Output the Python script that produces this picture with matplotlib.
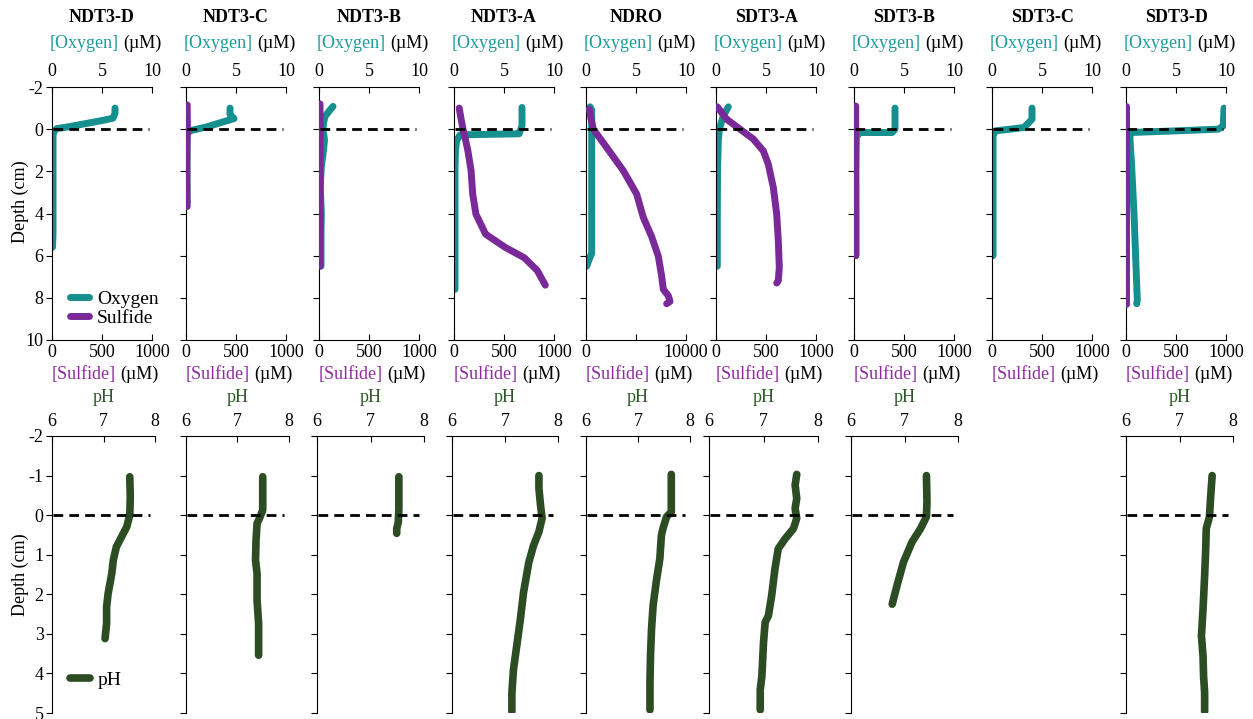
import matplotlib.pyplot as plt

plt.rcParams['font.family'] = ['Liberation Serif', 'DejaVu Serif']
plt.rcParams['font.size'] = 13
plt.rcParams['axes.unicode_minus'] = False

# site names, left to right
sites = ['NDT3-D', 'NDT3-C', 'NDT3-B', 'NDT3-A', 'NDRO', 'SDT3-A', 'SDT3-B', 'SDT3-C', 'SDT3-D']

# oxygen profiles (top axis, 0-10) : depth cm, value
ndt3d_o2_depth = [-1.0, -0.75, -0.52, -0.4, -0.25, -0.1, -0.03, 0.1, 0.3, 1.0, 2.0, 3.0, 4.0, 5.0, 5.6]
ndt3d_o2 = [6.3, 6.3, 6.1, 4.9, 3.2, 1.5, 0.5, 0.2, 0.1, 0.1, 0.1, 0.1, 0.1, 0.1, 0.05]
ndt3c_o2_depth = [-1.0, -0.7, -0.5, -0.3, -0.1, 0.05, 0.15, 0.3, 1.0, 2.0, 3.0, 3.5]
ndt3c_o2 = [4.4, 4.4, 4.8, 3.4, 2.0, 0.6, 0.2, 0.1, 0.1, 0.1, 0.1, 0.1]
ndt3b_o2_depth = [-1.08, -0.85, -0.6, -0.3, 0.0, 0.5, 1.0, 1.8, 2.7, 4.0, 5.0, 6.5]
ndt3b_o2 = [1.4, 1.0, 0.6, 0.45, 0.4, 0.55, 0.45, 0.23, 0.13, 0.23, 0.2, 0.2]
ndt3a_o2_depth = [-1.03, -0.5, -0.16, 0.1, 0.22, 0.27, 0.55, 1.0, 1.8, 3.0, 5.0, 7.6]
ndt3a_o2 = [6.8, 6.8, 6.8, 6.6, 6.5, 0.6, 0.26, 0.15, 0.1, 0.1, 0.1, 0.1]
ndro_o2_depth = [-1.06, -0.9, 0.0, 1.0, 2.0, 3.0, 4.0, 5.0, 5.88, 6.2, 6.5]
ndro_o2 = [0.4, 0.57, 0.57, 0.57, 0.57, 0.57, 0.57, 0.57, 0.57, 0.3, 0.07]
sdt3a_o2_depth = [-1.06, -0.63, 0.0, 0.55, 2.0, 4.0, 6.5]
sdt3a_o2 = [1.23, 0.73, 0.33, 0.23, 0.15, 0.13, 0.13]
sdt3b_o2_depth = [-1.0, -0.5, 0.0, 0.16, 0.16, 0.4, 2.0, 4.0, 6.0]
sdt3b_o2 = [4.1, 4.1, 4.1, 3.8, 0.56, 0.23, 0.2, 0.2, 0.2]
sdt3c_o2_depth = [-1.0, -0.47, -0.08, 0.0, 0.08, 0.3, 2.0, 4.0, 6.0]
sdt3c_o2 = [4.0, 4.0, 3.2, 1.85, 0.34, 0.1, 0.1, 0.1, 0.1]
sdt3d_o2_depth = [-1.0, -0.16, 0.0, 0.08, 0.16, 0.5, 1.8, 4.0, 6.5, 8.1, 8.28]
sdt3d_o2 = [9.8, 9.73, 9.23, 5.0, 0.4, 0.4, 0.57, 0.8, 1.0, 1.13, 1.07]

# sulfide profiles (bottom axis) : depth cm, uM
ndt3d_h2s_depth = []
ndt3d_h2s = []
ndt3c_h2s_depth = [-1.15, 0.0, 1.0, 2.0, 3.0, 3.67]
ndt3c_h2s = [12, 14, 10, 8, 10, 12]
ndt3b_h2s_depth = [-1.2, 0.0, 2.0, 4.0, 6.5]
ndt3b_h2s = [10, 12, 10, 12, 10]
ndt3a_h2s_depth = [-1.0, -0.5, 0.0, 0.5, 1.03, 1.97, 3.08, 4.03, 4.98, 5.6, 6.1, 6.7, 7.4]
ndt3a_h2s = [52, 70, 90, 115, 139, 171, 187, 219, 316, 510, 703, 832, 913]
ndro_h2s_depth = [-0.95, -0.5, 0.0, 0.87, 1.97, 3.08, 4.19, 5.1, 6.03, 6.98, 7.6, 7.9, 8.17, 8.28]
ndro_h2s = [333, 500, 733, 2067, 3733, 5067, 5733, 6567, 7233, 7567, 7733, 8233, 8400, 8067]
sdt3a_h2s_depth = [-1.06, -0.47, 0.0, 0.47, 1.03, 1.66, 2.76, 4.03, 5.29, 6.55, 7.19, 7.3]
sdt3a_h2s = [13, 107, 240, 373, 473, 523, 573, 607, 623, 633, 623, 607]
sdt3b_h2s_depth = [-1.1, 0.0, 2.0, 4.0, 6.0]
sdt3b_h2s = [17, 17, 15, 17, 17]
sdt3c_h2s_depth = []
sdt3c_h2s = []
sdt3d_h2s_depth = [-1.1, 0.0, 2.0, 4.0, 6.0, 8.3]
sdt3d_h2s = [3, 3, 3, 3, 3, 3]

h2s_max = [1000, 1000, 1000, 1000, 10000, 1000, 1000, 1000, 1000]

# pH profiles (no pH for SDT3-C)
ndt3d_ph_depth = [-0.97, -0.46, 0.0, 0.3, 0.55, 0.8, 1.14, 1.48, 1.98, 2.32, 2.74, 3.12]
ndt3d_ph = [7.51, 7.52, 7.51, 7.45, 7.35, 7.25, 7.19, 7.16, 7.09, 7.06, 7.06, 7.03]
ndt3c_ph_depth = [-0.97, -0.13, 0.04, 0.21, 0.63, 1.14, 1.48, 2.15, 2.74, 3.16, 3.54]
ndt3c_ph = [7.49, 7.49, 7.44, 7.38, 7.36, 7.35, 7.38, 7.38, 7.41, 7.41, 7.41]
ndt3b_ph_depth = [-0.97, -0.17, 0.17, 0.34, 0.46]
ndt3b_ph = [7.53, 7.53, 7.52, 7.49, 7.49]
ndt3a_ph_depth = [-1.0, -0.68, -0.25, 0.08, 0.42, 0.76, 1.19, 1.95, 2.63, 3.22, 3.9, 4.49, 4.96]
ndt3a_ph = [7.64, 7.64, 7.67, 7.70, 7.64, 7.54, 7.45, 7.35, 7.29, 7.23, 7.16, 7.13, 7.13]
ndro_ph_depth = [-1.03, -0.08, 0.04, 0.34, 0.51, 1.1, 1.69, 2.29, 2.88, 3.56, 4.24, 4.92]
ndro_ph = [7.64, 7.64, 7.55, 7.48, 7.45, 7.42, 7.35, 7.29, 7.26, 7.24, 7.23, 7.23]
sdt3a_ph_depth = [-1.03, -0.76, -0.42, -0.17, 0.08, 0.34, 0.59, 0.85, 1.36, 2.03, 2.54, 2.71, 3.22, 4.07, 4.41, 4.92]
sdt3a_ph = [7.61, 7.58, 7.61, 7.58, 7.61, 7.55, 7.40, 7.27, 7.21, 7.15, 7.09, 7.03, 7.0, 6.97, 6.94, 6.94]
sdt3b_ph_depth = [-1.0, -0.34, 0.04, 0.34, 0.68, 1.19, 1.78, 2.25]
sdt3b_ph = [7.41, 7.42, 7.41, 7.30, 7.14, 6.98, 6.86, 6.77]
sdt3d_ph_depth = [-1.0, -0.42, 0.04, 0.34, 0.85, 1.53, 2.37, 3.05, 3.56, 4.07, 4.49, 4.96]
sdt3d_ph = [7.61, 7.58, 7.56, 7.50, 7.49, 7.47, 7.44, 7.41, 7.44, 7.45, 7.47, 7.47]

o2_series = [(ndt3d_o2_depth, ndt3d_o2), (ndt3c_o2_depth, ndt3c_o2), (ndt3b_o2_depth, ndt3b_o2),
             (ndt3a_o2_depth, ndt3a_o2), (ndro_o2_depth, ndro_o2), (sdt3a_o2_depth, sdt3a_o2),
             (sdt3b_o2_depth, sdt3b_o2), (sdt3c_o2_depth, sdt3c_o2), (sdt3d_o2_depth, sdt3d_o2)]
h2s_series = [(ndt3d_h2s_depth, ndt3d_h2s), (ndt3c_h2s_depth, ndt3c_h2s), (ndt3b_h2s_depth, ndt3b_h2s),
              (ndt3a_h2s_depth, ndt3a_h2s), (ndro_h2s_depth, ndro_h2s), (sdt3a_h2s_depth, sdt3a_h2s),
              (sdt3b_h2s_depth, sdt3b_h2s), (sdt3c_h2s_depth, sdt3c_h2s), (sdt3d_h2s_depth, sdt3d_h2s)]
ph_series = [(ndt3d_ph_depth, ndt3d_ph), (ndt3c_ph_depth, ndt3c_ph), (ndt3b_ph_depth, ndt3b_ph),
             (ndt3a_ph_depth, ndt3a_ph), (ndro_ph_depth, ndro_ph), (sdt3a_ph_depth, sdt3a_ph),
             (sdt3b_ph_depth, sdt3b_ph), None, (sdt3d_ph_depth, sdt3d_ph)]

TEAL = '#168f8f'
PURPLE = '#7a2a98'
GREEN = '#2c4d24'
TEAL_TXT = '#1f9b9b'
PURPLE_TXT = '#8e2c9e'
GREEN_TXT = '#2d5a27'

W, H = 1253, 719
fig = plt.figure(figsize=(W / 100, H / 100), dpi=100)


def px_axes(left, top, width, height):
    return fig.add_axes([left / W, 1 - (top + height) / H, width / W, height / H])


def two_color(ax, y_off, first, color, dx1, dx2):
    ax.annotate(first, xy=(0.5, 1 if y_off > 0 else 0), xycoords='axes fraction',
                xytext=(dx1, y_off), textcoords='offset points', ha='right', va='center',
                color=color, fontsize=13)
    ax.annotate('(\u00b5M)', xy=(0.5, 1 if y_off > 0 else 0), xycoords='axes fraction',
                xytext=(dx2, y_off), textcoords='offset points', ha='left', va='center',
                color='black', fontsize=13)


top_lefts = [52, 186, 319, 454, 586, 716, 854, 992, 1126]
bot_lefts = [52, 186, 317, 452, 586, 709, 851, 992, 1126]
bot_widths = [103, 103, 107, 106, 104, 109, 107, 105, 107]

#top row: oxygen + sulfide
for i, site in enumerate(sites):
    ax = px_axes(top_lefts[i], 87, 100, 253)
    axs = ax.twiny()
    # twiny moves the original ticks to the bottom, so set sides after it
    ax.xaxis.tick_top()
    axs.xaxis.tick_bottom()

    ax.set_ylim(10, -2)
    ax.set_xlim(0, 10)
    ax.set_xticks([0, 5, 10])
    ax.set_yticks(range(-2, 11, 2))
    ax.tick_params(axis='x', direction='in', length=4, pad=5, labelsize=13)
    ax.tick_params(axis='y', direction='out', length=4, pad=2, labelsize=13)
    if i > 0:
        ax.set_yticklabels([])
    ax.spines['right'].set_visible(False)
    ax.spines['bottom'].set_visible(False)
    d, v = o2_series[i]
    o2_line, = ax.plot(v, d, color=TEAL, lw=5, solid_capstyle='round', label='Oxygen')

    axs.set_xlim(0, h2s_max[i])
    if h2s_max[i] == 10000:
        axs.set_xticks([0, 5000, 10000])
        axs.set_xticklabels(['0', '', '10000'])
    else:
        axs.set_xticks([0, 500, 1000])
    axs.tick_params(axis='x', direction='in', length=4, pad=3, labelsize=13)
    for s in ['right', 'top', 'left']:
        axs.spines[s].set_visible(False)
    d, v = h2s_series[i]
    h2s_line, = axs.plot(v, d, color=PURPLE, lw=5, solid_capstyle='round', label='Sulfide')
    axs.axhline(0, xmin=0.01, xmax=0.97, color='black', lw=2, ls=(0, (3.5, 2.2)), zorder=5)

    ax.annotate(site, xy=(0.5, 1), xycoords='axes fraction', xytext=(0, 50),
                textcoords='offset points', ha='center', va='center',
                fontsize=13, fontweight='bold')
    two_color(ax, 31.5, '[Oxygen]', TEAL_TXT, 12, 15)
    two_color(axs, -24.5, '[Sulfide]', PURPLE_TXT, 10, 13.3)

    if i == 0:
        axs.legend(handles=[o2_line, h2s_line], loc='lower left', bbox_to_anchor=(0.1, 0.02),
                   frameon=False, handlelength=1.0, handletextpad=0.4, labelspacing=0.1,
                   fontsize=14, borderaxespad=0)

#bottom row: pH
for i, site in enumerate(sites):
    if ph_series[i] is None:
        continue
    ax = px_axes(bot_lefts[i], 436, bot_widths[i], 277)
    ax.set_ylim(5, -2)
    ax.set_xlim(6, 8)
    ax.xaxis.tick_top()
    ax.set_xticks([6, 7, 8])
    ax.set_yticks(range(-2, 6))
    ax.tick_params(axis='x', direction='in', length=4, pad=4, labelsize=13)
    ax.tick_params(axis='y', direction='out', length=4, pad=2, labelsize=13)
    if i > 0:
        ax.set_yticklabels([])
    ax.spines['right'].set_visible(False)
    ax.spines['bottom'].set_visible(False)
    d, v = ph_series[i]
    ph_line, = ax.plot(v, d, color=GREEN, lw=5.5, solid_capstyle='round', label='pH')
    ax.axhline(0, xmin=0.01, xmax=0.95, color='black', lw=2, ls=(0, (3.5, 2.2)), zorder=5)
    ax.annotate('pH', xy=(0.5, 1), xycoords='axes fraction', xytext=(0, 28),
                textcoords='offset points', ha='center', va='center', color=GREEN_TXT, fontsize=13)
    if i == 0:
        ax.legend(handles=[ph_line], loc='lower left', bbox_to_anchor=(0.1, 0.06),
                  frameon=False, handlelength=1.0, handletextpad=0.4, fontsize=14, borderaxespad=0)

fig.text(20 / W, 1 - 202 / H, 'Depth (cm)', rotation=90, ha='center', va='center', fontsize=13)
fig.text(20 / W, 1 - 575 / H, 'Depth (cm)', rotation=90, ha='center', va='center', fontsize=13)

fig.savefig('out.png', dpi=100)
